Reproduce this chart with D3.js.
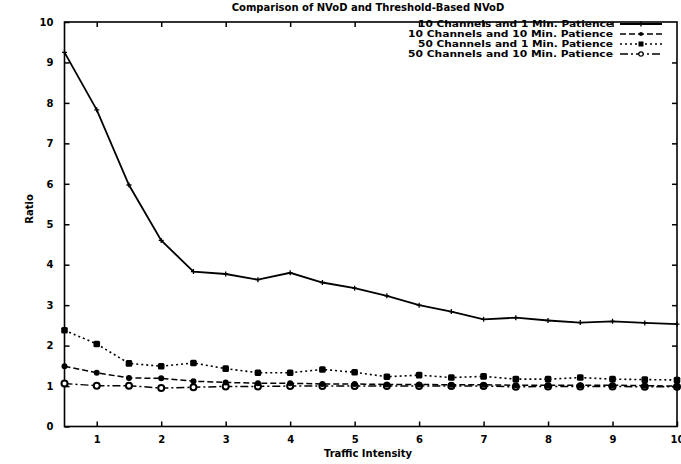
<!DOCTYPE html>
<html><head><meta charset="utf-8">
<script src="https://cdn.jsdelivr.net/npm/d3@7"></script>
<style>
body{margin:0;background:#fff;}
text{font-family:"DejaVu Sans",Arial,sans-serif;font-weight:bold;fill:#000;}
</style></head>
<body><svg id="c" width="681" height="464"></svg>
<script>
const xValues = [0.5,1,1.5,2,2.5,3,3.5,4,4.5,5,5.5,6,6.5,7,7.5,8,8.5,9,9.5,10];
const s10ch1min  = [9.25,7.83,5.97,4.6,3.83,3.77,3.63,3.8,3.56,3.42,3.23,3.0,2.84,2.65,2.69,2.62,2.57,2.6,2.56,2.53];
const s10ch10min = [1.49,1.33,1.2,1.19,1.12,1.09,1.07,1.07,1.05,1.05,1.04,1.04,1.03,1.03,1.02,1.02,1.02,1.02,1.01,1.0];
const s50ch1min  = [2.38,2.04,1.56,1.49,1.57,1.43,1.33,1.33,1.41,1.34,1.23,1.27,1.21,1.24,1.17,1.17,1.21,1.17,1.16,1.15];
const s50ch10min = [1.06,1.01,1.01,0.95,0.97,0.99,0.99,1.0,1.0,1.0,1.0,1.0,1.0,1.0,0.98,0.99,0.99,0.99,0.98,0.98];
const seriesNames = ["10 Channels and 1 Min. Patience","10 Channels and 10 Min. Patience","50 Channels and 1 Min. Patience","50 Channels and 10 Min. Patience"];
const xTicks = [1,2,3,4,5,6,7,8,9,10];
const yTicks = [0,1,2,3,4,5,6,7,8,9,10];
const titleText = "Comparison of NVoD and Threshold-Based NVoD";
const xLabel = "Traffic Intensity";
const yLabel = "Ratio";

const L=64.5, R=677, T=22, B=426.5;
const FONT = "DejaVu Sans, Arial, sans-serif";
const svg = d3.select("#c");
const x = d3.scaleLinear().domain([0.5,10]).range([L,R]);
const y = d3.scaleLinear().domain([0,10]).range([B,T]);

// frame
svg.append("rect").attr("x",L).attr("y",T).attr("width",R-L).attr("height",B-T)
  .attr("fill","none").attr("stroke","#000").attr("stroke-width",1.6);

// axes
const ax = svg.append("g").attr("transform",`translate(0,${B})`)
  .call(d3.axisBottom(x).tickValues(xTicks).tickSizeInner(-5).tickSizeOuter(0).tickPadding(9).tickFormat(d3.format("d")));
const axT = svg.append("g").attr("transform",`translate(0,${T})`)
  .call(d3.axisTop(x).tickValues(xTicks.filter(d=>d<10)).tickSizeInner(-5).tickSizeOuter(0).tickFormat(""));
const ay = svg.append("g").attr("transform",`translate(${L},0)`)
  .call(d3.axisLeft(y).tickValues(yTicks).tickSizeInner(-5).tickSizeOuter(0).tickPadding(11).tickFormat(d3.format("d")));
const ayR = svg.append("g").attr("transform",`translate(${R},0)`)
  .call(d3.axisRight(y).tickValues(yTicks.filter(d=>d>0&&d<10)).tickSizeInner(-5).tickSizeOuter(0).tickFormat(""));
[ax,axT,ay,ayR].forEach(g=>{
  g.select(".domain").remove();
  g.selectAll("line").attr("stroke","#000").attr("stroke-width",1.5);
  g.selectAll("text").attr("font-size",10).attr("font-family",FONT).attr("font-weight","bold");
});

// titles
svg.append("text").attr("x",368).attr("y",11).attr("text-anchor","middle").attr("font-size",10).text(titleText);
svg.append("text").attr("x",368).attr("y",457).attr("text-anchor","middle").attr("font-size",10).text(xLabel);
svg.append("text").attr("transform","translate(33,209) rotate(-90)").attr("text-anchor","middle").attr("font-size",10).text(yLabel);

const styles = [
  {data:s10ch1min, dash:null, w:1.8, marker:"plus"},
  {data:s10ch10min, dash:"6,3", w:1.5, marker:"dot"},
  {data:s50ch1min, dash:"2,3", w:1.6, marker:"square"},
  {data:s50ch10min, dash:"8,3,2,3", w:1.5, marker:"open"}
];
const line = d3.line().x(d=>x(d[0])).y(d=>y(d[1]));

function drawMarker(g, cx, cy, type){
  if(type==="plus"){
    g.append("path").attr("d",`M${cx-2.5},${cy}H${cx+2.5}M${cx},${cy-2.5}V${cy+2.5}`).attr("stroke","#000").attr("stroke-width",1.3);
  } else if(type==="dot"){
    g.append("circle").attr("cx",cx).attr("cy",cy).attr("r",3).attr("fill","#000");
  } else if(type==="square"){
    g.append("rect").attr("x",cx-3.3).attr("y",cy-3.3).attr("width",6.6).attr("height",6.6).attr("rx",1.5).attr("fill","#000");
  } else {
    g.append("circle").attr("cx",cx).attr("cy",cy).attr("r",3).attr("fill","#fff").attr("stroke","#000").attr("stroke-width",2);
  }
}

styles.slice().reverse().forEach(s=>{
  const pts = xValues.map((v,i)=>[v,s.data[i]]);
  const g = svg.append("g");
  g.append("path").attr("d",line(pts)).attr("fill","none").attr("stroke","#000")
    .attr("stroke-width",s.w).attr("stroke-dasharray",s.dash);
  pts.forEach(p=>drawMarker(g,x(p[0]),y(p[1]),s.marker));
});

// legend
const legX = 613, sx1 = 620, sx2 = 662, ly0 = 24, ldy = 10;
seriesNames.forEach((n,i)=>{
  const yy = ly0 + i*ldy;
  svg.append("text").attr("x",legX).attr("y",yy+3.4).attr("text-anchor","end").attr("font-size",9.3)
    .attr("textLength", i===1||i===3 ? 205 : 195).attr("lengthAdjust","spacingAndGlyphs").text(n);
  svg.append("line").attr("x1",sx1).attr("x2",sx2).attr("y1",yy).attr("y2",yy)
    .attr("stroke","#000").attr("stroke-width",styles[i].w).attr("stroke-dasharray",styles[i].dash);
  const g = svg.append("g");
  if(styles[i].marker==="plus") drawMarker(g,(sx1+sx2)/2,yy,"plus");
  else if(styles[i].marker==="dot") g.append("circle").attr("cx",(sx1+sx2)/2).attr("cy",yy).attr("r",2).attr("fill","#000");
  else if(styles[i].marker==="square") g.append("rect").attr("x",(sx1+sx2)/2-2.5).attr("y",yy-2.5).attr("width",5).attr("height",5).attr("fill","#000");
  else g.append("circle").attr("cx",(sx1+sx2)/2).attr("cy",yy).attr("r",2.2).attr("fill","#fff").attr("stroke","#000").attr("stroke-width",1.2);
});
</script></body></html>
